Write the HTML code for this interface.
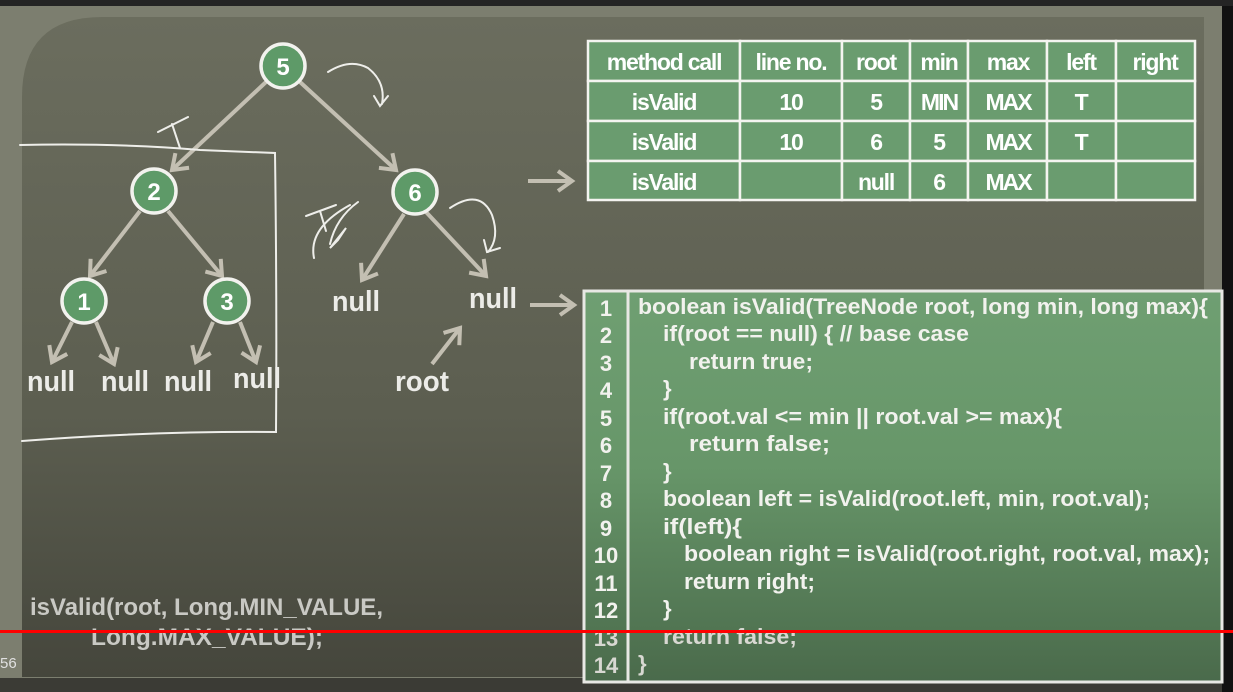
<!DOCTYPE html>
<html><head><meta charset="utf-8"><style>
html,body{margin:0;padding:0;width:1233px;height:692px;overflow:hidden;background:#3b3b35}
svg{display:block}
text{font-family:"Liberation Sans",Arial,sans-serif}
</style></head><body>
<svg width="1233" height="692" viewBox="0 0 1233 692" xmlns="http://www.w3.org/2000/svg">
<defs>
<linearGradient id="bd" x1="0" y1="0" x2="0" y2="1">
<stop offset="0" stop-color="#6b6d5e"/><stop offset="0.6" stop-color="#5c5e50"/><stop offset="1" stop-color="#45463c"/>
</linearGradient>
<linearGradient id="cg" x1="0" y1="0" x2="0" y2="1">
<stop offset="0" stop-color="#6f9f72"/><stop offset="0.45" stop-color="#679669"/><stop offset="1" stop-color="#4a6a4b"/>
</linearGradient>
<marker id="ah" viewBox="0 0 10 10" refX="8" refY="5" markerWidth="10" markerHeight="10" orient="auto" markerUnits="userSpaceOnUse" style="overflow:visible">
<path d="M-6,-5 L8,5 L-6,15" fill="none" stroke="#c3bfb2" stroke-width="4"/>
</marker>
</defs>
<rect x="0" y="0" width="1233" height="692" fill="#3b3b35"/>
<rect x="0" y="6" width="1222" height="672" fill="#7c7e6f"/>
<rect x="1222" y="0" width="11" height="692" fill="#111"/>
<rect x="0" y="0" width="1233" height="6" fill="#242424"/>
<path d="M102,17 H1204 V677 H22 V97 Q22,17 102,17 Z" fill="url(#bd)"/>

<g stroke="#c3bfb2" stroke-width="4" fill="none" marker-end="url(#ah)">
<line x1="266" y1="82" x2="172" y2="170"/>
<line x1="300" y1="82" x2="396" y2="170"/>
<line x1="140" y1="211" x2="90" y2="276"/>
<line x1="168" y1="211" x2="222" y2="276"/>
<line x1="404" y1="214" x2="362" y2="280"/>
<line x1="426" y1="212" x2="486" y2="276"/>
<line x1="72" y1="322" x2="52" y2="362"/>
<line x1="96" y1="322" x2="114" y2="364"/>
<line x1="213" y1="322" x2="196" y2="362"/>
<line x1="240" y1="322" x2="256" y2="362"/>
<line x1="432" y1="364" x2="460" y2="328"/>
<line x1="528" y1="181" x2="572" y2="181"/>
<line x1="530" y1="305" x2="574" y2="305"/>
</g>
<g font-weight="bold" font-size="24" fill="#fff" text-anchor="middle">
<circle cx="283" cy="66" r="22" fill="#5e9a68" stroke="#f2f2ee" stroke-width="3.5"/><text x="283" y="75">5</text>
<circle cx="154" cy="191" r="22" fill="#5e9a68" stroke="#f2f2ee" stroke-width="3.5"/><text x="154" y="200">2</text>
<circle cx="415" cy="192" r="22" fill="#5e9a68" stroke="#f2f2ee" stroke-width="3.5"/><text x="415" y="201">6</text>
<circle cx="84" cy="301" r="22" fill="#5e9a68" stroke="#f2f2ee" stroke-width="3.5"/><text x="84" y="310">1</text>
<circle cx="227" cy="301" r="22" fill="#5e9a68" stroke="#f2f2ee" stroke-width="3.5"/><text x="227" y="310">3</text>
</g>
<g font-size="29" font-weight="bold" fill="#ecece8" text-anchor="middle" lengthAdjust="spacingAndGlyphs">
<text x="51" y="391" textLength="48" lengthAdjust="spacingAndGlyphs">null</text>
<text x="125" y="391" textLength="48" lengthAdjust="spacingAndGlyphs">null</text>
<text x="188" y="391" textLength="48" lengthAdjust="spacingAndGlyphs">null</text>
<text x="257" y="388" textLength="48" lengthAdjust="spacingAndGlyphs">null</text>
<text x="356" y="311" textLength="48" lengthAdjust="spacingAndGlyphs">null</text>
<text x="493" y="308" textLength="48" lengthAdjust="spacingAndGlyphs">null</text>
<text x="422" y="391" textLength="54" lengthAdjust="spacingAndGlyphs">root</text>
</g>
<g stroke="#eeeeea" stroke-width="2" fill="none" stroke-linecap="round">
<path d="M20,145 Q120,143 200,150 L275,153 Q277,300 276,432 Q150,431 22,441"/>
<path d="M158,132 L188,117 M172,124 L180,148"/>
<path d="M328,72 Q350,58 368,68 Q386,82 382,104 M374,96 L380,106 L388,96"/>
<path d="M306,216 L336,205 M320,211 L326,231"/>
<path d="M314,258 Q308,228 350,205 M330,244 Q336,218 358,202 M338,240 L346,228 L330,248 Z"/>
<path d="M450,208 Q480,188 492,215 Q500,238 488,252 M484,240 L487,252 L500,248"/>
</g>
<g stroke="#f4f4f0" stroke-width="2.5" fill="#6a9c6f">
<rect x="588" y="41" width="152" height="40"/><rect x="740" y="41" width="102" height="40"/><rect x="842" y="41" width="68" height="40"/><rect x="910" y="41" width="58" height="40"/><rect x="968" y="41" width="79" height="40"/><rect x="1047" y="41" width="69" height="40"/><rect x="1116" y="41" width="79" height="40"/>
<rect x="588" y="81" width="152" height="40"/><rect x="740" y="81" width="102" height="40"/><rect x="842" y="81" width="68" height="40"/><rect x="910" y="81" width="58" height="40"/><rect x="968" y="81" width="79" height="40"/><rect x="1047" y="81" width="69" height="40"/><rect x="1116" y="81" width="79" height="40"/>
<rect x="588" y="121" width="152" height="40"/><rect x="740" y="121" width="102" height="40"/><rect x="842" y="121" width="68" height="40"/><rect x="910" y="121" width="58" height="40"/><rect x="968" y="121" width="79" height="40"/><rect x="1047" y="121" width="69" height="40"/><rect x="1116" y="121" width="79" height="40"/>
<rect x="588" y="161" width="152" height="39"/><rect x="740" y="161" width="102" height="39"/><rect x="842" y="161" width="68" height="39"/><rect x="910" y="161" width="58" height="39"/><rect x="968" y="161" width="79" height="39"/><rect x="1047" y="161" width="69" height="39"/><rect x="1116" y="161" width="79" height="39"/>
</g>
<g font-size="23" font-weight="bold" fill="#fff" text-anchor="middle" letter-spacing="-1.2">
<text x="664" y="70">method call</text><text x="791" y="70">line no.</text><text x="876" y="70">root</text><text x="939" y="70">min</text><text x="1008" y="70">max</text><text x="1081" y="70">left</text><text x="1155" y="70">right</text>
<text x="664" y="110">isValid</text><text x="791" y="110">10</text><text x="876" y="110">5</text><text x="939" y="110" letter-spacing="-2">MIN</text><text x="1008" y="110" letter-spacing="-2">MAX</text><text x="1081" y="110">T</text>
<text x="664" y="150">isValid</text><text x="791" y="150">10</text><text x="876" y="150">6</text><text x="939" y="150">5</text><text x="1008" y="150" letter-spacing="-2">MAX</text><text x="1081" y="150">T</text>
<text x="664" y="190">isValid</text><text x="876" y="190">null</text><text x="939" y="190">6</text><text x="1008" y="190" letter-spacing="-2">MAX</text>
</g>
<rect x="584" y="291" width="638" height="391" fill="url(#cg)" stroke="#e8e8e4" stroke-width="3"/>
<line x1="628" y1="291" x2="628" y2="682" stroke="#e8e8e4" stroke-width="3"/>
<g font-size="22" fill="#f2f2ee" font-weight="bold">
<g text-anchor="middle">
<text x="606" y="316">1</text><text x="606" y="343">2</text><text x="606" y="371">3</text><text x="606" y="398">4</text><text x="606" y="426">5</text><text x="606" y="453">6</text><text x="606" y="481">7</text><text x="606" y="508">8</text><text x="606" y="536">9</text><text x="606" y="563">10</text><text x="606" y="591">11</text><text x="606" y="618">12</text><text x="606" y="646" fill="#d8d8d2">13</text><text x="606" y="673" fill="#d8d8d2">14</text>
</g>
<text x="638" y="314" textLength="570" lengthAdjust="spacingAndGlyphs">boolean isValid(TreeNode root, long min, long max){</text>
<text x="663" y="341" textLength="306" lengthAdjust="spacingAndGlyphs">if(root == null) { // base case</text>
<text x="689" y="369" textLength="124" lengthAdjust="spacingAndGlyphs">return true;</text>
<text x="663" y="396">}</text>
<text x="663" y="424" textLength="399" lengthAdjust="spacingAndGlyphs">if(root.val &lt;= min || root.val &gt;= max){</text>
<text x="689" y="451" textLength="141" lengthAdjust="spacingAndGlyphs">return false;</text>
<text x="663" y="479">}</text>
<text x="663" y="506" textLength="487" lengthAdjust="spacingAndGlyphs">boolean left = isValid(root.left, min, root.val);</text>
<text x="663" y="534" textLength="79" lengthAdjust="spacingAndGlyphs">if(left){</text>
<text x="684" y="561" textLength="526" lengthAdjust="spacingAndGlyphs">boolean right = isValid(root.right, root.val, max);</text>
<text x="684" y="589" textLength="131" lengthAdjust="spacingAndGlyphs">return right;</text>
<text x="663" y="616">}</text>
<text x="663" y="644" fill="#d8d8d2" textLength="134" lengthAdjust="spacingAndGlyphs">return false;</text>
<text x="638" y="671" fill="#d8d8d2">}</text>
</g>
<g font-size="24" fill="#c9c9c4" font-weight="bold">
<text x="30" y="615" textLength="353" lengthAdjust="spacingAndGlyphs">isValid(root, Long.MIN_VALUE,</text>
<text x="91" y="645" textLength="232" lengthAdjust="spacingAndGlyphs">Long.MAX_VALUE);</text>
</g>
<text x="0" y="668" font-size="15" fill="#e0e0e0">56</text>
<rect x="0" y="630" width="1233" height="3" fill="#ff0000"/>
</svg>
</body></html>
